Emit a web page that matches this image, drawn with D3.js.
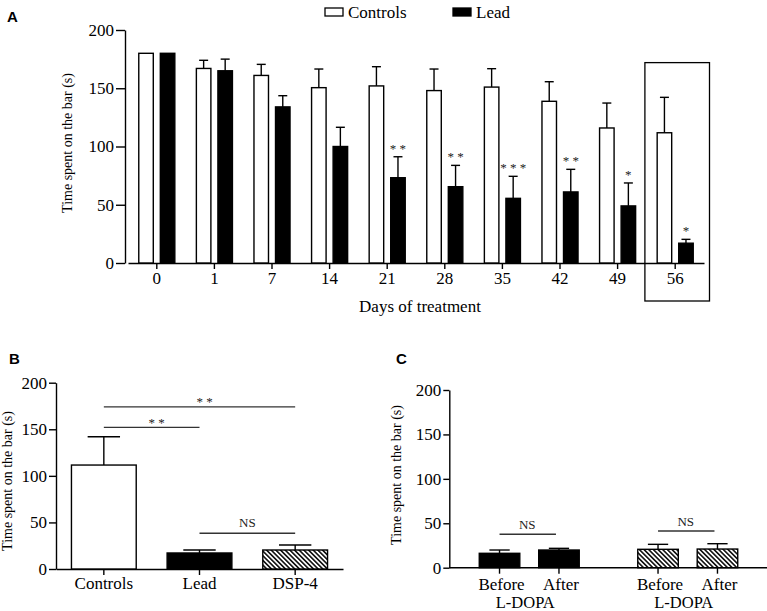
<!DOCTYPE html>
<html><head><meta charset="utf-8">
<script src="https://cdn.jsdelivr.net/npm/d3@7"></script>
<style>
body{margin:0;background:#fff}
svg{display:block}
text{font-family:"Liberation Serif","Times New Roman",serif;fill:#000}
.panel{font-family:"Liberation Sans",Arial,sans-serif;font-weight:bold}
</style>
</head><body>
<svg id="c" width="767" height="611"></svg>
<script>
// ---------- Panel A data ----------
const days = ["0","1","7","14","21","28","35","42","49","56"];
const controlsA = [180, 167, 161, 150.5, 152, 148, 151, 138.8, 115.9, 111.8];
const controlsAErr = [0, 7, 9.5, 16, 16.5, 18.5, 15.8, 16.8, 21.4, 30.4];
const leadA = [180, 165, 134, 100, 73.2, 65.5, 55.5, 61, 49, 17];
const leadAErr = [0, 10, 9.6, 16.5, 18, 18.3, 18.9, 19.4, 19.7, 3.3];
const leadAStars = ["", "", "", "", "* *", "* *", "* * *", "* *", "*", "*"];
const seriesA = ["Controls", "Lead"];
const yTicks = [0, 50, 100, 150, 200];

// ---------- Panel B data ----------
const groupsB = ["Controls", "Lead", "DSP-4"];
const meansB = [111.6, 17.2, 20.4];
const semB = [30.4, 3.2, 5.4];
const sigFromB = ["Controls", "Controls", "Lead"];
const sigToB = ["DSP-4", "Lead", "DSP-4"];
const sigLevelB = [174, 152, 38.3];
const sigLabelB = ["* *", "* *", "NS"];

// ---------- Panel C data ----------
const treatmentsC = ["Lead", "DSP-4"];
const phasesC = ["Before", "After"];
const meansC = [[16.2, 19.9], [20.7, 21]];
const semC = [[3.7, 1.9], [5.6, 6]];
const sigLevelC = [37.6, 41.3];
const sigLabelC = ["NS", "NS"];
const groupLabelC = "L-DOPA";

const svg = d3.select("#c");
const defs = svg.append("defs");
const pat = defs.append("pattern").attr("id", "hatch")
  .attr("patternUnits", "userSpaceOnUse").attr("width", 3.3).attr("height", 3.3)
  .attr("patternTransform", "rotate(-45)");
pat.append("rect").attr("width", 3.3).attr("height", 3.3).attr("fill", "#fff");
pat.append("line").attr("x1", 0.8).attr("y1", 0).attr("x2", 0.8).attr("y2", 3.3)
  .attr("stroke", "#000").attr("stroke-width", 1.5);

function styleAxis(g, fs) {
  g.attr("font-family", null).attr("font-size", null);
  g.selectAll("path,line").attr("stroke", "#000").attr("stroke-width", 1.4);
  g.selectAll("text").style("font-size", fs + "px").style("font-family", '"Liberation Serif",serif').attr("fill", "#000");
}
function errBar(g, cx, yTop, yBase, cap) {
  g.append("line").attr("x1", cx).attr("x2", cx).attr("y1", yBase).attr("y2", yTop)
    .attr("stroke", "#000").attr("stroke-width", 1.4);
  g.append("line").attr("x1", cx - cap / 2).attr("x2", cx + cap / 2).attr("y1", yTop).attr("y2", yTop)
    .attr("stroke", "#000").attr("stroke-width", 1.4);
}

// ================= PANEL A =================
{
  const xA = d3.scaleBand().domain(days).range([128, 704]);
  const xIn = d3.scaleBand().domain(seriesA).range([0, xA.bandwidth()]).paddingInner(0.326).paddingOuter(0.5);
  const yA = d3.scaleLinear().domain([0, 200]).range([263, 30]);
  const g = svg.append("g");

  svg.append("text").attr("class", "panel").attr("x", 7).attr("y", 22).style("font-size", "15px").text("A");

  const ya = g.append("g").attr("transform", "translate(125,0)")
    .call(d3.axisLeft(yA).tickValues(yTicks).tickSize(9).tickSizeOuter(0).tickPadding(2));
  styleAxis(ya, 17);
  const xa = g.append("g").attr("transform", "translate(0,263)")
    .call(d3.axisBottom(xA).tickSize(6).tickSizeOuter(0).tickPadding(3));
  styleAxis(xa, 17);

  const bw = xIn.bandwidth();
  days.forEach((d, i) => {
    const vals = [controlsA[i], leadA[i]];
    const errs = [controlsAErr[i], leadAErr[i]];
    seriesA.forEach((s, j) => {
      const x = xA(d) + xIn(s);
      if (errs[j] > 0) errBar(g, x + bw / 2, yA(vals[j] + errs[j]), yA(vals[j]), 9);
      g.append("rect").attr("x", x).attr("y", yA(vals[j])).attr("width", bw)
        .attr("height", yA(0) - yA(vals[j]))
        .attr("fill", j === 0 ? "#fff" : "#000").attr("stroke", "#000").attr("stroke-width", 1.4);
    });
    if (leadAStars[i]) {
      g.append("text").attr("x", xA(d) + xIn("Lead") + bw / 2)
        .attr("y", yA(leadA[i] + leadAErr[i]) - 4)
        .attr("text-anchor", "middle").style("font-size", "13px").style("fill", "#222")
        .text(leadAStars[i]);
    }
  });

  // highlight box around the last day
  const last = days[days.length - 1];
  g.append("rect").attr("x", xA(last) - 1.5).attr("y", yA(172))
    .attr("width", xA.bandwidth() + 7).attr("height", 301 - yA(172))
    .attr("fill", "none").attr("stroke", "#000").attr("stroke-width", 1.3);

  g.append("text").attr("text-anchor", "middle")
    .attr("transform", "translate(72," + 143 + ") rotate(-90)")
    .style("font-size", "14px").text("Time spent on the bar (s)");
  g.append("text").attr("text-anchor", "middle").attr("x", 420).attr("y", 312)
    .style("font-size", "17px").text("Days of treatment");

  // legend
  const leg = svg.append("g");
  const legX = [325, 453];
  seriesA.forEach((s, j) => {
    leg.append("rect").attr("x", legX[j]).attr("y", 8).attr("width", 18).attr("height", 8)
      .attr("fill", j === 0 ? "#fff" : "#000").attr("stroke", "#000").attr("stroke-width", 1.3);
    leg.append("text").attr("x", legX[j] + 23).attr("y", 18).style("font-size", "17px").text(s);
  });
}

// ================= PANEL B =================
{
  const xB = d3.scaleBand().domain(groupsB).range([56, 343]).paddingInner(0.323).paddingOuter(0.1615);
  const yB = d3.scaleLinear().domain([0, 200]).range([569, 382.7]);
  const g = svg.append("g");
  svg.append("text").attr("class", "panel").attr("x", 9).attr("y", 364).style("font-size", "15px").text("B");

  const ya = g.append("g").attr("transform", "translate(56,0)")
    .call(d3.axisLeft(yB).tickValues(yTicks).tickSize(7).tickSizeOuter(0).tickPadding(2));
  styleAxis(ya, 17);
  const xa = g.append("g").attr("transform", "translate(0,569)")
    .call(d3.axisBottom(xB).tickSize(6).tickSizeOuter(0).tickPadding(2));
  styleAxis(xa, 17);

  const bw = xB.bandwidth();
  groupsB.forEach((d, i) => {
    const x = xB(d);
    errBar(g, x + bw / 2, yB(meansB[i] + semB[i]), yB(meansB[i]), bw / 2);
    g.append("rect").attr("x", x).attr("y", yB(meansB[i])).attr("width", bw)
      .attr("height", yB(0) - yB(meansB[i]))
      .attr("fill", i === 0 ? "#fff" : (i === 1 ? "#000" : "url(#hatch)"))
      .attr("stroke", "#000").attr("stroke-width", 1.4);
  });
  sigLabelB.forEach((lab, k) => {
    const x1 = xB(sigFromB[k]) + bw / 2, x2 = xB(sigToB[k]) + bw / 2;
    const y = yB(sigLevelB[k]);
    g.append("line").attr("x1", x1).attr("x2", x2).attr("y1", y).attr("y2", y)
      .attr("stroke", "#333").attr("stroke-width", 1.4);
    const isNS = lab === "NS";
    g.append("text").attr("x", (x1 + x2) / 2 + (isNS ? 0 : 5)).attr("y", isNS ? y - 6.5 : y - 0.5)
      .attr("text-anchor", "middle").style("font-size", "13px").style("fill", "#222").text(lab);
  });
  g.append("text").attr("text-anchor", "middle")
    .attr("transform", "translate(12,481) rotate(-90)")
    .style("font-size", "14px").text("Time spent on the bar (s)");
}

// ================= PANEL C =================
{
  const xC = d3.scaleBand().domain(treatmentsC).range([450, 767]).paddingInner(0.25).paddingOuter(0.125);
  const xIn = d3.scaleBand().domain(phasesC).range([0, xC.bandwidth()]).paddingInner(0.318).paddingOuter(0.159);
  const yC = d3.scaleLinear().domain([0, 200]).range([567.7, 390]);
  const g = svg.append("g");
  svg.append("text").attr("class", "panel").attr("x", 396).attr("y", 364).style("font-size", "15px").text("C");

  const ya = g.append("g").attr("transform", "translate(449.3,0)")
    .call(d3.axisLeft(yC).tickValues(yTicks).tickSize(6).tickSizeOuter(0).tickPadding(2));
  styleAxis(ya, 17);
  g.append("line").attr("x1", 449.3).attr("x2", 767).attr("y1", yC(0)).attr("y2", yC(0))
    .attr("stroke", "#000").attr("stroke-width", 1.4);

  const bw = xIn.bandwidth();
  treatmentsC.forEach((t, i) => {
    phasesC.forEach((p, j) => {
      const x = xC(t) + xIn(p);
      const cx = x + bw / 2;
      const v = meansC[i][j];
      errBar(g, cx, yC(v + semC[i][j]), yC(v), bw / 2);
      g.append("rect").attr("x", x).attr("y", yC(v)).attr("width", bw)
        .attr("height", yC(0) - yC(v))
        .attr("fill", i === 0 ? "#000" : "url(#hatch)").attr("stroke", "#000").attr("stroke-width", 1.4);
      g.append("line").attr("x1", cx).attr("x2", cx).attr("y1", yC(0)).attr("y2", yC(0) + 6)
        .attr("stroke", "#000").attr("stroke-width", 1.4);
      g.append("text").attr("x", cx + 2).attr("y", yC(0) + 22.5).attr("text-anchor", "middle")
        .style("font-size", "17px").text(p);
    });
    const c1 = xC(t) + xIn(phasesC[0]) + bw / 2, c2 = xC(t) + xIn(phasesC[1]) + bw / 2;
    g.append("text").attr("x", (c1 + c2) / 2 - 4).attr("y", 607.5).attr("text-anchor", "middle")
      .style("font-size", "16.5px").text(groupLabelC);
    const y = yC(sigLevelC[i]);
    g.append("line").attr("x1", c1).attr("x2", c2 - 3).attr("y1", y).attr("y2", y)
      .attr("stroke", "#333").attr("stroke-width", 1.4);
    g.append("text").attr("x", (c1 + c2) / 2 - 2).attr("y", y - 5.5).attr("text-anchor", "middle")
      .style("font-size", "13px").style("fill", "#222").text(sigLabelC[i]);
  });
  g.append("text").attr("text-anchor", "middle")
    .attr("transform", "translate(401,475) rotate(-90)")
    .style("font-size", "14px").text("Time spent on the bar (s)");
}
</script>
</body></html>
